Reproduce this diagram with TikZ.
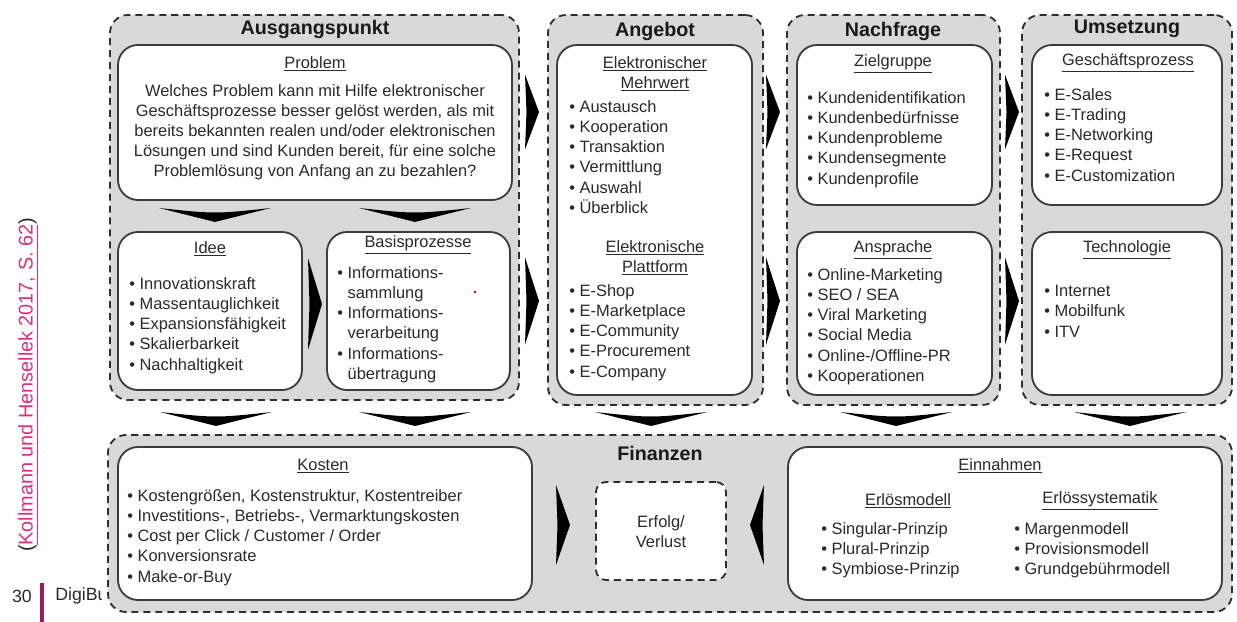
\documentclass[tikz,border=0pt]{standalone}
\usepackage{fontspec}
\setmainfont{Liberation Sans}
\usetikzlibrary{fit}

\definecolor{panelgray}{HTML}{D9D9D9}
\definecolor{dashgray}{HTML}{2E2E2E}
\definecolor{boxline}{HTML}{3C3C3C}
\definecolor{txtgray}{HTML}{2A2A2A}
\definecolor{citepink}{HTML}{DC2F7B}
\definecolor{barpurple}{HTML}{9A1A5C}

\tikzset{
  panel/.style={draw=dashgray, fill=panelgray, line width=1.3pt, dash pattern=on 5pt off 3.5pt, rounded corners=0.45cm, inner sep=0pt},
  box/.style={draw=boxline, fill=white, line width=1.3pt, rounded corners=0.5cm, inner sep=0pt},
  head/.style={font=\fontsize{14}{16}\selectfont\bfseries, text=black!90, inner sep=0pt},
  sub/.style={font=\fontsize{11.7}{14.3}\selectfont, text=txtgray, inner sep=0pt, align=center},
  txt/.style={font=\fontsize{11.7}{14.4}\selectfont, text=txtgray, inner sep=0pt, align=left, anchor=north west},
  page/.style={font=\fontsize{12.6}{15}\selectfont, text=txtgray, inner sep=0pt},
  rchev/.pic={\fill[black] (-7,-45) -- (7,0) -- (-7,45) -- (-5.5,0) -- cycle;},
  dchev/.pic={\fill[black] (-56,0) -- (0,14) -- (56,0) .. controls (0,6) .. (-56,0) -- cycle;}
}

\begin{document}
\begin{tikzpicture}[x=0.025cm, y=-0.025cm]
    \useasboundingbox (0,0) rectangle (1237,622);

    % Margin
    \node[page, font=\fontsize{14.1}{17}\selectfont, rotate=90] (cite) at (28,385) {(\textcolor{citepink}{\underline{Kollmann und Hensellek 2017, S. 62}})};
    \node[page] (pnum) at (22,596) {30};
    \fill[barpurple] (40,583) rectangle (44,622);
    \begin{scope}
        \clip (50,575) rectangle (101,615);
        \node[page, anchor=west] (digi) at (55,596) {DigiBu};
    \end{scope}

    % Panels
    \node[panel, fit={(110,15) (519,400)}] (ausgang) {};
    \node[panel, fit={(548,15) (763,405)}] (angebot) {};
    \node[panel, fit={(787,15) (1000,405)}] (nachfrage) {};
    \node[panel, fit={(1022,15) (1232,405)}] (umsetzung) {};
    \node[panel, fit={(108,435) (1232,612)}] (finanzen) {};

    \node[head] (ausgangT) at (315,29) {Ausgangspunkt};
    \node[head] (angebotT) at (655,31) {Angebot};
    \node[head] (nachfrageT) at (893,31) {Nachfrage};
    \node[head] (umsetzungT) at (1127,29) {Umsetzung};
    \node[head] (finanzenT) at (660,453) {Finanzen};

    % Boxes
    \node[box, fit={(118,45) (512,200)}] (problem) {};
    \node[box, fit={(118,232) (302,390)}] (idee) {};
    \node[box, fit={(327,232) (510,390)}] (basis) {};
    \node[box, fit={(557,45) (752,395)}] (mehrwert) {};
    \node[box, fit={(797,45) (992,205)}] (ziel) {};
    \node[box, fit={(797,232) (992,395)}] (ansprache) {};
    \node[box, fit={(1032,45) (1222,205)}] (gesch) {};
    \node[box, fit={(1032,232) (1222,395)}] (techno) {};
    \node[box, fit={(118,447) (532,600)}] (kosten) {};
    \node[box, fit={(788,447) (1222,600)}] (einnahmen) {};
    \node[box, dashed, draw=dashgray, dash pattern=on 5pt off 3.5pt, rounded corners=0.25cm, fit={(596,482) (726,580)}] (erfolg) {};

    % Texts
    \node[sub] (problemT) at (315,64) {\underline{Problem}};
    \node[sub, anchor=north] (problemL) at (315,84) {Welches Problem kann mit Hilfe elektronischer\\Geschäftsprozesse besser gelöst werden, als mit\\bereits bekannten realen und/oder elektronischen\\Lösungen und sind Kunden bereit, für eine solche\\Problemlösung von Anfang an zu bezahlen?};

    \node[sub] (ideeT) at (210,249) {\underline{Idee}};
    \node[txt] (ideeL) at (129,277) {• Innovationskraft\\• Massentauglichkeit\\• Expansionsfähigkeit\\• Skalierbarkeit\\• Nachhaltigkeit};

    \node[sub] (basisT) at (418,245) {\underline{Basisprozesse}};
    \node[txt] (basisL) at (337,266) {• Informations-\\\phantom{• }sammlung\\• Informations-\\\phantom{• }verarbeitung\\• Informations-\\\phantom{• }übertragung};
    \fill[red!80!black] (475,292) circle (1.3);

    \node[sub] (mehrwertT) at (655,74) {\underline{Elektronischer}\\\underline{Mehrwert}};
    \node[txt] (mehrwertL) at (569,100) {• Austausch\\• Kooperation\\• Transaktion\\• Vermittlung\\• Auswahl\\• Überblick};
    \node[sub] (plattformT) at (655,258) {\underline{Elektronische}\\\underline{Plattform}};
    \node[txt] (plattformL) at (569,284) {• E-Shop\\• E-Marketplace\\• E-Community\\• E-Procurement\\• E-Company};

    \node[sub] (zielT) at (893,64) {\underline{Zielgruppe}};
    \node[txt] (zielL) at (807,91) {• Kundenidentifikation\\• Kundenbedürfnisse\\• Kundenprobleme\\• Kundensegmente\\• Kundenprofile};
    \node[sub] (anspracheT) at (893,250) {\underline{Ansprache}};
    \node[txt] (anspracheL) at (807,268) {• Online-Marketing\\• SEO / SEA\\• Viral Marketing\\• Social Media\\• Online-/Offline-PR\\• Kooperationen};

    \node[sub] (geschT) at (1128,63) {\underline{Geschäftsprozess}};
    \node[txt] (geschL) at (1044,88) {• E-Sales\\• E-Trading\\• E-Networking\\• E-Request\\• E-Customization};
    \node[sub] (technoT) at (1127,250) {\underline{Technologie}};
    \node[txt] (technoL) at (1044,285) {• Internet\\• Mobilfunk\\• ITV};

    \node[sub] (kostenT) at (323,466) {\underline{Kosten}};
    \node[txt] (kostenL) at (127,489) {• Kostengrößen, Kostenstruktur, Kostentreiber\\• Investitions-, Betriebs-, Vermarktungskosten\\• Cost per Click / Customer / Order\\• Konversionsrate\\• Make-or-Buy};
    \node[sub] (erfolgT) at (661,532) {Erfolg/\\Verlust};
    \node[sub] (einnahmenT) at (1000,466) {\underline{Einnahmen}};
    \node[sub] (modellT) at (908,501) {\underline{Erlösmodell}};
    \node[sub] (systT) at (1100,501) {\underline{Erlössystematik}};
    \node[txt] (modellL) at (821,522) {• Singular-Prinzip\\• Plural-Prinzip\\• Symbiose-Prinzip};
    \node[txt] (systL) at (1014,522) {• Margenmodell\\• Provisionsmodell\\• Grundgebührmodell};

    % Arrows
    \pic at (215,208) {dchev};
    \pic at (415,208) {dchev};
    \pic[yscale=1.02] at (315,304) {rchev};
    \pic[yscale=0.83] at (532,112) {rchev};
    \pic[yscale=0.97] at (532,301) {rchev};
    \pic[yscale=0.83] at (773,112) {rchev};
    \pic[yscale=0.97] at (773,301) {rchev};
    \pic[yscale=0.83] at (1012,112) {rchev};
    \pic[yscale=0.97] at (1012,301) {rchev};
    \foreach \x in {216,415,651,896,1130}
        \pic at (\x,412) {dchev};
    \pic[yscale=0.89] at (563,525) {rchev};
    \pic[yscale=0.89, rotate=180] at (757,525) {rchev};
\end{tikzpicture}
\end{document}
